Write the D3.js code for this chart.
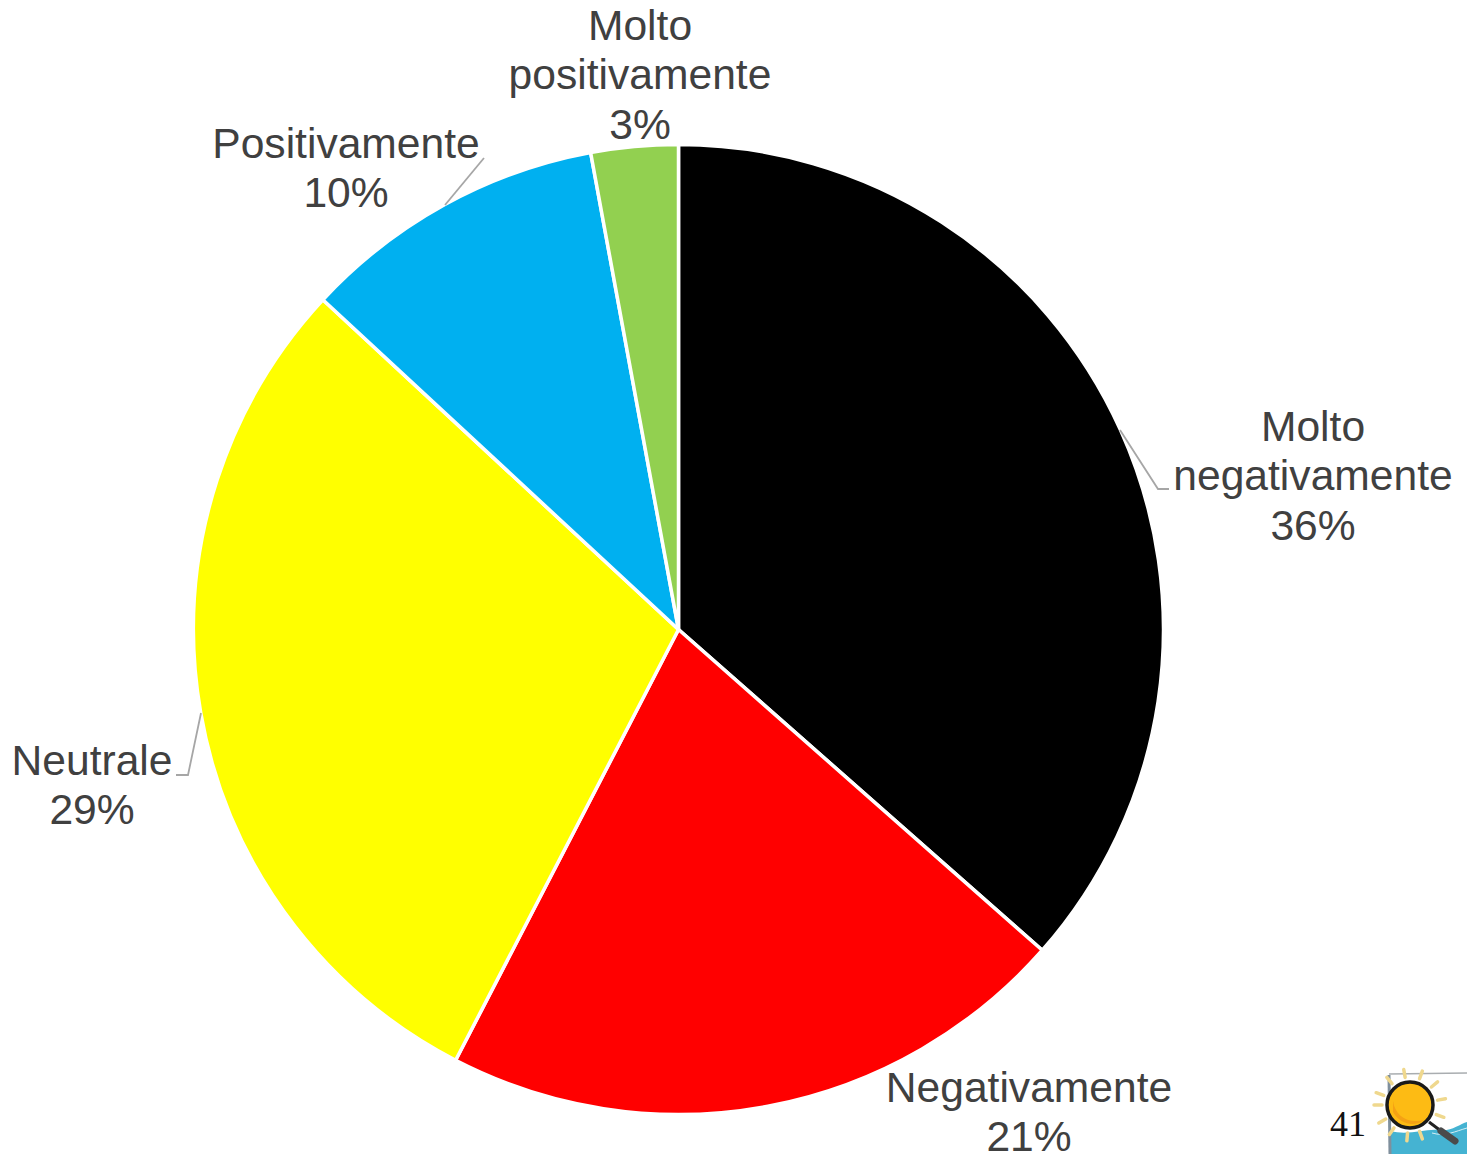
<!DOCTYPE html>
<html><head><meta charset="utf-8">
<script src="https://cdn.jsdelivr.net/npm/d3@7/dist/d3.min.js"></script>
<style>html,body{margin:0;padding:0;background:#fff;overflow:hidden}svg{display:block}</style>
</head><body><svg id="c" width="1467" height="1154"></svg>
<script>
const categories = ["Molto negativamente","Negativamente","Neutrale","Positivamente","Molto positivamente"];
const values = [36.5,21.1,29.3,10.2,2.9];
const percentLabels = ["36%","21%","29%","10%","3%"];
const colors = ["#000000","#ff0000","#ffff00","#00b0f0","#92d050"];

// layout of the labels (not data)
const labelLayout = [
  {lines:["Molto","negativamente","36%"], x:1313, y:441},
  {lines:["Negativamente","21%"], x:1029, y:1102},
  {lines:["Neutrale","29%"], x:92, y:775},
  {lines:["Positivamente","10%"], x:346, y:158},
  {lines:["Molto","positivamente","3%"], x:640, y:40}
];
const leaderLines = [
  [[1120,430],[1158,489],[1169,489]],
  [[201,713],[188,775],[176,775]],
  [[445,205],[484,158]]
];
const cx=678.5, cy=629.5, R=485;
const svg=d3.select("#c");
const pie=d3.pie().sort(null).value(d=>d)(values);
const arc=d3.arc().innerRadius(0).outerRadius(R);
svg.append("g").attr("transform",`translate(${cx},${cy})`)
  .selectAll("path").data(pie).join("path")
  .attr("d",arc).attr("fill",(d,i)=>colors[i])
  .attr("stroke","#fff").attr("stroke-width",3.5).attr("stroke-linejoin","round");

svg.append("g").selectAll("path").data(leaderLines).join("path")
  .attr("d",d3.line()).attr("fill","none").attr("stroke","#a6a6a6").attr("stroke-width",1.8);

const lh=49.3;
const lg=svg.append("g").attr("font-family","'Liberation Sans',Arial,sans-serif")
  .attr("font-size",42.6).attr("fill","#404040").attr("text-anchor","middle");
labelLayout.forEach((l,i)=>{
  const t=lg.append("text").attr("x",l.x).attr("y",l.y).attr("aria-label",categories[i]);
  const lines=l.lines.slice(0,-1).concat([percentLabels[i]]);
  lines.forEach((s,j)=>t.append("tspan").attr("x",l.x).attr("y",l.y+j*lh).text(s));
});

svg.append("text").attr("x",1330).attr("y",1136).attr("font-family","'Liberation Serif',serif")
  .attr("font-size",36).attr("fill","#111").text("41");

// logo: sun under a magnifying glass, over water
const logo=svg.append("g");
logo.append("rect").attr("x",1389).attr("y",1074).attr("width",78).attr("height",80).attr("fill","#fff");
logo.append("path").attr("d","M1390,1131 C1410,1136 1425,1128 1440,1130 C1450,1132 1460,1124 1467,1122 L1467,1154 L1390,1154 Z").attr("fill","#45b3d2");
logo.append("path").attr("d","M1432,1133 C1445,1137 1456,1131 1467,1128").attr("fill","none").attr("stroke","#d5eff5").attr("stroke-width",1);
logo.append("path").attr("d","M1390,1154 L1389,1075").attr("fill","none").attr("stroke","#7f8f9c").attr("stroke-width",3);
logo.append("path").attr("d","M1389,1074 L1467,1073").attr("fill","none").attr("stroke","#a9adb0").attr("stroke-width",1.5);
const rayAngles=[-160,-130,-100,-70,-40,-10,20,180,150,125,95,70];
logo.append("g").selectAll("line").data(rayAngles).join("line")
  .attr("x1",d=>1410+Math.cos(d*Math.PI/180)*28).attr("y1",d=>1105+Math.sin(d*Math.PI/180)*28)
  .attr("x2",d=>1410+Math.cos(d*Math.PI/180)*36).attr("y2",d=>1105+Math.sin(d*Math.PI/180)*36)
  .attr("stroke","#efd88e").attr("stroke-width",3.5).attr("stroke-linecap","round");
logo.append("line").attr("x1",1429).attr("y1",1122).attr("x2",1441).attr("y2",1131).attr("stroke","#222").attr("stroke-width",3);
logo.append("line").attr("x1",1441).attr("y1",1131).attr("x2",1455).attr("y2",1141).attr("stroke","#4a4a4a").attr("stroke-width",7).attr("stroke-linecap","round");
logo.append("circle").attr("cx",1410).attr("cy",1105).attr("r",23).attr("fill","#fdbb14").attr("stroke","#1a1a1a").attr("stroke-width",3.5);
logo.append("path").attr("d","M1393,1101 C1395,1116 1408,1124 1424,1120 C1416,1127 1400,1125 1393,1112 Z").attr("fill","#f5a214");
</script></body></html>
